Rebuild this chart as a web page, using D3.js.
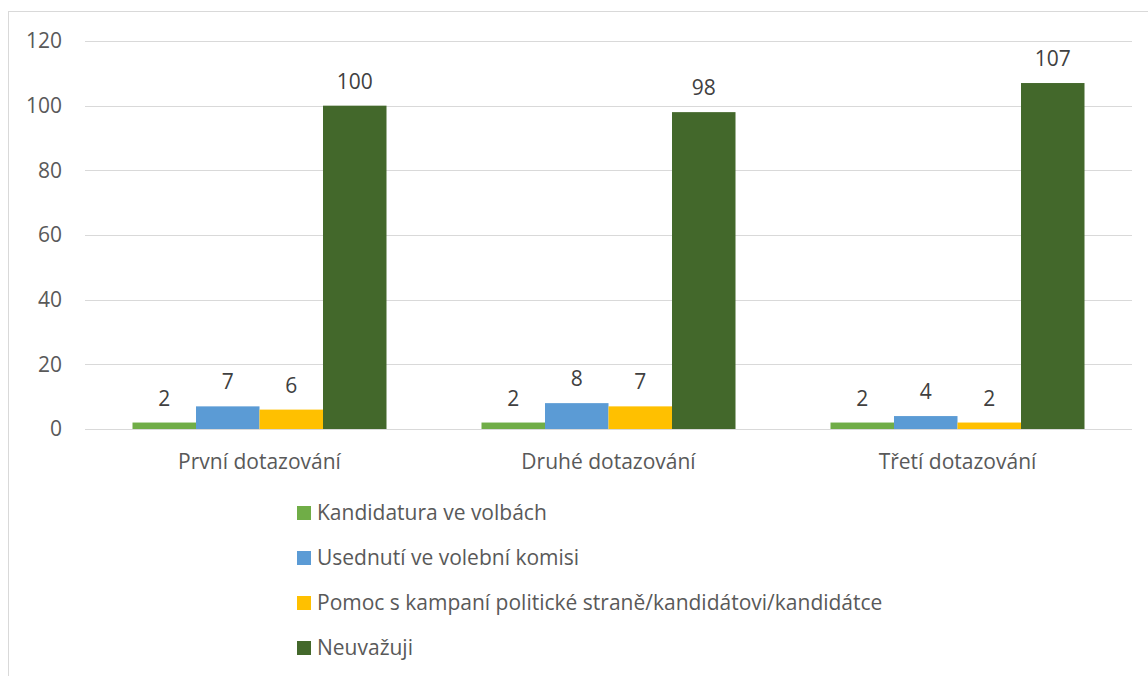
<!DOCTYPE html>
<html>
<head>
<meta charset="utf-8">
<script src="https://cdn.jsdelivr.net/npm/d3@7"></script>
<style>
  body { margin: 0; background: #fff; }
  text { font-family: "Open Sans", "Liberation Sans", sans-serif; fill: #595959; }
</style>
</head>
<body>
<svg id="chart" width="1148" height="676"></svg>
<script>
const categories = ["První dotazování", "Druhé dotazování", "Třetí dotazování"];
const seriesNames = [
  "Kandidatura ve volbách",
  "Usednutí ve volební komisi",
  "Pomoc s kampaní politické straně/kandidátovi/kandidátce",
  "Neuvažuji"
];
const kandidatura = [2, 2, 2];
const usednuti = [7, 8, 4];
const pomoc = [6, 7, 2];
const neuvazuji = [100, 98, 107];
const yTicks = [0, 20, 40, 60, 80, 100, 120];
const colors = ["#70AD47", "#5B9BD5", "#FFC000", "#43682B"];

const seriesValues = [kandidatura, usednuti, pomoc, neuvazuji];
const FS = 21;

const svg = d3.select("#chart");

// outer border
svg.append("rect")
  .attr("x", 8.5).attr("y", 11.5)
  .attr("width", 1150).attr("height", 680)
  .attr("fill", "none").attr("stroke", "#D9D9D9").attr("stroke-width", 1);

const plotLeft = 85, plotRight = 1132;
const plotTop = 41, plotBottom = 429;

const x0 = d3.scaleBand().domain(categories).range([plotLeft, plotRight]).paddingInner(0).paddingOuter(0);
const groupPad = 47.5;
const x1 = d3.scaleBand().domain(d3.range(seriesNames.length))
  .range([groupPad, x0.bandwidth() - groupPad]).padding(0);
const y = d3.scaleLinear().domain([0, 120]).range([plotBottom, plotTop]);

// gridlines
svg.append("g").selectAll("line").data(yTicks).join("line")
  .attr("x1", plotLeft).attr("x2", plotRight)
  .attr("y1", d => Math.round(y(d)) + 0.5).attr("y2", d => Math.round(y(d)) + 0.5)
  .attr("stroke", "#D9D9D9").attr("stroke-width", 1);

// y tick labels
svg.append("g").selectAll("text").data(yTicks).join("text")
  .attr("x", 62).attr("y", d => y(d))
  .attr("dy", "0.35em")
  .attr("text-anchor", "end")
  .attr("font-size", FS)
  .text(d => d);

// bars
const groups = svg.append("g").selectAll("g").data(categories).join("g")
  .attr("transform", c => `translate(${x0(c)},0)`);

groups.each(function(c, ci) {
  const g = d3.select(this);
  seriesValues.forEach((vals, si) => {
    const v = vals[ci];
    g.append("rect")
      .attr("x", x1(si))
      .attr("y", y(v))
      .attr("width", x1.bandwidth())
      .attr("height", y(0) - y(v))
      .attr("fill", colors[si]);
    g.append("text")
      .attr("x", x1(si) + x1.bandwidth() / 2)
      .attr("y", y(v) - 17)
      .attr("text-anchor", "middle")
      .attr("font-size", FS)
      .style("fill", "#404040")
      .text(v);
  });
});

// category labels
svg.append("g").selectAll("text").data(categories).join("text")
  .attr("x", c => x0(c) + x0.bandwidth() / 2)
  .attr("y", 469)
  .attr("text-anchor", "middle")
  .attr("font-size", FS)
  .text(c => c);

// legend
const legend = svg.append("g").selectAll("g").data(seriesNames).join("g")
  .attr("transform", (d, i) => `translate(297,${513 + i * 45})`);
legend.append("rect")
  .attr("x", 0).attr("y", -7).attr("width", 14).attr("height", 14)
  .attr("fill", (d, i) => colors[i]);
legend.append("text")
  .attr("x", 20).attr("y", 0).attr("dy", "0.35em")
  .attr("font-size", FS)
  .text(d => d);
</script>
</body>
</html>
